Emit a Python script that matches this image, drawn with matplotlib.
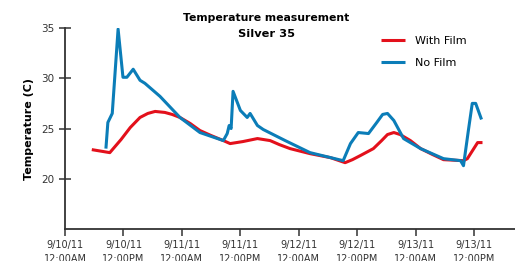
import matplotlib.pyplot as plt
import pandas as pd

# hours after 9/10/11 12:00AM and temperature (C)
film_hours = [5.5, 9.2, 11.5, 13.4, 15.4, 17.0, 18.5, 20.5, 22.0, 23.6, 25.7,
              27.7, 30.0, 32.5, 33.9, 36.5, 39.5, 42.1, 44.0, 46.2, 50.3,
              54.5, 57.5, 59.0, 60.6, 63.3, 65.0, 66.2, 67.5, 68.8, 70.9, 73.0, 75.5,
              77.7, 81.8, 82.6, 84.7, 85.7]
film_temp = [22.9, 22.6, 23.9, 25.1, 26.1, 26.5, 26.7, 26.6, 26.4, 26.1, 25.5,
             24.8, 24.3, 23.8, 23.5, 23.7, 24.0, 23.8, 23.4, 23.0, 22.5,
             22.1, 21.6, 21.9, 22.3, 23.0, 23.8, 24.4, 24.6, 24.4, 23.8, 23.0, 22.4,
             21.9, 21.8, 22.0, 23.6, 23.6]

nofilm_hours = [8.4, 8.8, 9.7, 10.9, 11.9, 12.7, 14.0, 15.4, 16.4, 19.5, 23.6,
                27.7, 32.5, 33.3, 33.7, 34.1, 34.5, 36.0, 37.4, 38.0, 39.5,
                40.7, 45.2, 50.3, 57.1, 58.6, 60.2, 62.3, 64.0, 65.2, 66.2, 67.5,
                69.5, 73.0, 77.7, 81.2, 81.8, 82.8, 83.6, 84.3, 85.5]
nofilm_temp = [23.0, 25.6, 26.5, 34.9, 30.1, 30.1, 30.9, 29.8, 29.5, 28.2, 26.1,
               24.6, 23.8, 24.5, 25.3, 25.0, 28.7, 26.8, 26.1, 26.5, 25.3,
               24.9, 23.8, 22.6, 21.8, 23.5, 24.6, 24.5, 25.6, 26.4, 26.5, 25.8,
               24.0, 23.0, 22.0, 21.8, 21.3, 24.8, 27.5, 27.5, 25.9]

tick_hours = [0, 12, 24, 36, 48, 60, 72, 84]
tick_labels = ["9/10/11\n12:00AM", "9/10/11\n12:00PM", "9/11/11\n12:00AM", "9/11/11\n12:00PM",
               "9/12/11\n12:00AM", "9/12/11\n12:00PM", "9/13/11\n12:00AM", "9/13/11\n12:00PM"]

start = pd.Timestamp("2011-09-10 00:00")
to_time = lambda h: start + pd.to_timedelta(h, unit="h")

red = "#E3101B"
blue = "#0B7DB8"

fig = plt.figure(figsize=(5.15, 2.61), dpi=100)
ax = fig.add_axes([0.1262, 0.1226, 0.875, 0.77])

ax.plot(to_time(film_hours), film_temp, color=red, lw=2.2, label="With Film",
        solid_joinstyle="round", solid_capstyle="butt")
ax.plot(to_time(nofilm_hours), nofilm_temp, color=blue, lw=2.2, label="No Film",
        solid_joinstyle="round", solid_capstyle="butt")

ax.set_ylim(15, 35)
ax.set_xlim(to_time(0), to_time(92.5))
ax.set_yticks([20, 25, 30, 35])
ax.set_xticks(to_time(tick_hours))
ax.set_xticklabels(tick_labels, linespacing=1.5)

for s in ["top", "right"]:
    ax.spines[s].set_visible(False)
for s in ["left", "bottom"]:
    ax.spines[s].set_color("#333333")
    ax.spines[s].set_linewidth(1.3)

ax.tick_params(axis="y", direction="inout", length=9, width=1.1, color="#333333",
               labelsize=7.5, labelcolor="#333333", pad=3)
ax.tick_params(axis="x", direction="out", length=5, width=1.1, color="#333333",
               labelsize=7, labelcolor="#333333", pad=3)

ax.set_ylabel("Temperature (C)", fontsize=8, fontweight="bold", labelpad=5)

fig.text(0.517, 0.932, "Temperature measurement", ha="center", va="center",
         fontsize=7.8, fontweight="bold")
fig.text(0.517, 0.868, "Silver 35", ha="center", va="center",
         fontsize=8.2, fontweight="bold")

ax.legend(loc="upper left", bbox_to_anchor=(0.72, 0.9), bbox_transform=fig.transFigure,
          frameon=False, fontsize=8, handlelength=2.2, handletextpad=0.9,
          labelspacing=1.1)

fig.savefig("out.png", dpi=100)
